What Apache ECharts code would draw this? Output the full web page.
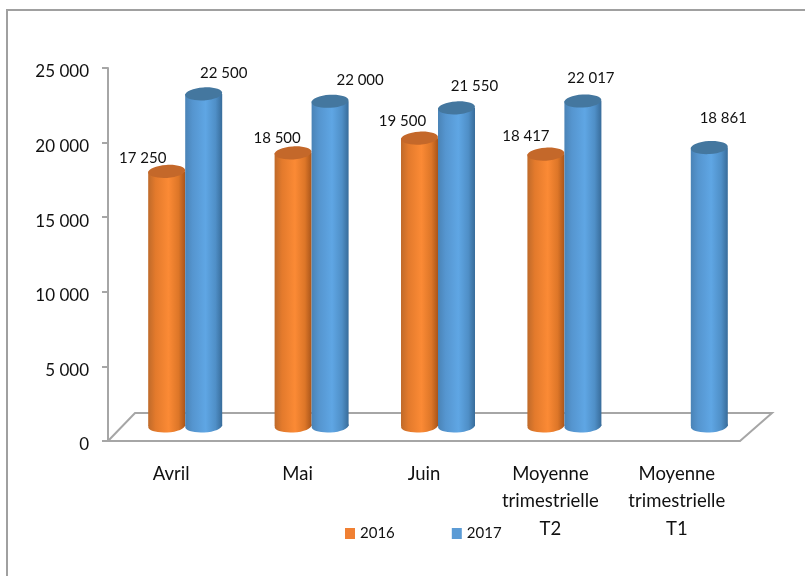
<!DOCTYPE html>
<html>
<head>
<meta charset="utf-8">
<style>
	html, body { margin: 0; padding: 0; background: #fff; }
	#chart { width: 805px; height: 576px; }
</style>
<script src="https://cdn.jsdelivr.net/npm/echarts@6/dist/echarts.min.js"></script>
</head>
<body>
<div id="chart"></div>
<script>
	var categories = ["Avril", "Mai", "Juin", "Moyenne\ntrimestrielle\nT2", "Moyenne\ntrimestrielle\nT1"];
	var values2016 = [17250, 18500, 19500, 18417, null];
	var values2017 = [22500, 22000, 21550, 22017, 18861];

	/* label offsets from the top of each cylinder, placed by hand in the original */
	var labelOffsets2016 = [[-24, -13], [-16, -15], [-17, -17], [-20, -18], [0, 0]];
	var labelOffsets2017 = [[20, -21], [30, -21], [18, -22], [8, -23], [14, -29]];

	var axisGray = '#a6a6a6';
	var textColor = '#111';
	var fontName = 'Lato';
	var barWidth = 37;
	var capHeight = 6.5;

	function hGradient(edgeLeft, shadeLeft, middle, shadeRight, edgeRight) {
		return new echarts.graphic.LinearGradient(0, 0, 1, 0, [
			{ offset: 0, color: edgeLeft },
			{ offset: 0.2, color: shadeLeft },
			{ offset: 0.55, color: middle },
			{ offset: 0.82, color: shadeRight },
			{ offset: 1, color: edgeRight }
		]);
	}

	function formatThousands(v) {
		return String(v).replace(/\B(?=(\d{3})+$)/g, ' ');
	}

	/* cylinder drawn from the axis position of the value */
	function cylinder(side, bodyFill, capFill, offsets) {
		return function (params, api) {
			var idx = api.value(0);
			var val = api.value(1);
			if (isNaN(val)) {
				return null;
			}
			var top = api.coord([idx, val]);
			var base = api.coord([idx, 0]);
			var cx = top[0] + side * barWidth / 2;
			var off = offsets[idx];
			return {
				type: 'group',
				children: [
					{
						type: 'ellipse',
						shape: { cx: cx, cy: base[1], rx: barWidth / 2, ry: capHeight },
						rotation: 0.06,
						originX: cx,
						originY: base[1],
						style: { fill: bodyFill }
					},
					{
						type: 'rect',
						shape: { x: cx - barWidth / 2, y: top[1], width: barWidth, height: base[1] - top[1] },
						style: { fill: bodyFill }
					},
					{
						type: 'ellipse',
						shape: { cx: cx, cy: top[1], rx: barWidth / 2, ry: capHeight },
						rotation: 0.06,
						originX: cx,
						originY: top[1],
						style: { fill: capFill }
					},
					{
						type: 'text',
						x: cx + off[0],
						y: top[1] + off[1],
						style: {
							text: formatThousands(val),
							fill: textColor,
							font: '15px ' + fontName,
							textAlign: 'center',
							textVerticalAlign: 'middle'
						}
					}
				]
			};
		};
	}

	var myChart = echarts.init(document.getElementById('chart'));
	myChart.setOption({
		animation: false,
		backgroundColor: '#fff',
		grid: [
			{ left: 108, top: 68, width: 632, height: 373 },
			/* bars stand further back on the floor, so they get their own shifted plot */
			{ left: 122, top: 57, width: 632, height: 369 }
		],
		xAxis: [
			{
				type: 'category',
				gridIndex: 0,
				data: categories,
				axisLine: { lineStyle: { color: axisGray, width: 2 } },
				axisTick: { length: 7, lineStyle: { color: axisGray, width: 2 } },
				axisLabel: {
					color: textColor,
					fontFamily: fontName,
					fontSize: 18.5,
					lineHeight: 27.5,
					margin: 19,
					interval: 0
				}
			},
			{ type: 'category', gridIndex: 1, data: categories, show: false }
		],
		yAxis: [
			{
				type: 'value',
				gridIndex: 0,
				min: 0,
				max: 25000,
				interval: 5000,
				axisLine: { show: true, lineStyle: { color: axisGray, width: 2 } },
				axisTick: { show: true, length: 6, lineStyle: { color: axisGray, width: 2 } },
				splitLine: { show: false },
				axisLabel: {
					margin: 19,
					formatter: function (v) {
						return '{t|' + formatThousands(v) + '}';
					},
					rich: {
						t: { color: textColor, fontFamily: fontName, fontSize: 17, padding: [8, 0, 0, 0] }
					}
				}
			},
			{ type: 'value', gridIndex: 1, min: 0, max: 25000, show: false }
		],
		legend: {
			left: 345,
			top: 526,
			padding: 0,
			itemWidth: 10,
			itemHeight: 11,
			itemGap: 57,
			icon: 'rect',
			textStyle: { color: textColor, fontFamily: fontName, fontSize: 15, padding: [4, 0, 0, 0] },
			data: ['2016', '2017']
		},
		graphic: [
			/* chart frame */
			{
				type: 'polyline',
				shape: { points: [[7, 576], [7, 10], [805, 10]] },
				style: { stroke: '#a0a0a0', lineWidth: 2, fill: null }
			},
			/* floor */
			{
				type: 'polyline',
				shape: { points: [[108, 441], [135, 413], [772, 413], [740, 441]] },
				style: { stroke: axisGray, lineWidth: 2, fill: null }
			}
		],
		series: [
			{
				name: '2016',
				type: 'custom',
				xAxisIndex: 1,
				yAxisIndex: 1,
				itemStyle: { color: '#f08033' },
				encode: { x: 0, y: 1 },
				data: values2016.map(function (v, i) { return [i, v === null ? '-' : v]; }),
				renderItem: cylinder(-1, hGradient('#bf6a2a', '#e37a2c', '#fb8a35', '#dd7628', '#a9551a'), '#c4682a', labelOffsets2016)
			},
			{
				name: '2017',
				type: 'custom',
				xAxisIndex: 1,
				yAxisIndex: 1,
				itemStyle: { color: '#5b9bd5' },
				encode: { x: 0, y: 1 },
				data: values2017.map(function (v, i) { return [i, v]; }),
				renderItem: cylinder(1, hGradient('#4a83b6', '#5595cf', '#5fa6e4', '#4f8fc7', '#386c9a'), '#44779f', labelOffsets2017)
			}
		]
	});
</script>
</body>
</html>
